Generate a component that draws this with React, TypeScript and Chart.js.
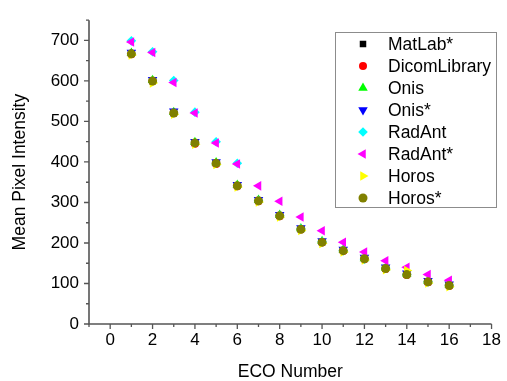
import React, { useEffect, useRef } from 'react';
import { Chart, registerables } from 'chart.js';
import { drawPoint } from 'chart.js/helpers';

Chart.register(...registerables);

// ---- Data ----
const ecoNumbers = [1, 2, 3, 4, 5, 6, 7, 8, 9, 10, 11, 12, 13, 14, 15, 16];
const matlabStar = [667, 600, 521, 447, 397, 341, 304, 267, 234, 202, 181, 161, 137, 122, 104, 95];
const dicomLibrary = [666, 599, 520, 445, 395, 340, 303, 266, 233, 201, 180, 160, 136, 121, 103, 94];
const onis = [669, 602, 523, 449, 399, 343, 306, 269, 236, 204, 183, 162, 139, 124, 106, 97];
const onisStar = [670, 603, 525, 450, 400, 344, 307, 270, 237, 205, 184, 164, 140, 125, 107, 98];
const radAnt = [699, 672, 601, 523, 450, 397, 305, 268, 235, 203, 181, 160, 138, 123, 104, 96];
const radAntStar = [696, 670, 596, 521, 447, 395, 341, 303, 264, 230, 202, 178, 156, 140, 122, 108];
const horos = [664, 595, 518, 444, 394, 338, 301, 264, 231, 199, 178, 158, 134, 132, 101, 92];
const horosStar = [667, 600, 521, 447, 397, 341, 304, 267, 234, 202, 181, 161, 137, 122, 104, 95];

const xMajorTicks = [0, 2, 4, 6, 8, 10, 12, 14, 16, 18];
const xMinorTicks = [-1, 1, 3, 5, 7, 9, 11, 13, 15, 17];
const yMajorTicks = [0, 100, 200, 300, 400, 500, 600, 700];
const yMinorTicks = [50, 150, 250, 350, 450, 550, 650, 750];

const X_MIN = -1;
const X_MAX = 18;
const Y_MIN = 0;
const Y_MAX = 750;

const FONT = "'Liberation Sans', Arial, sans-serif";
const AXIS_COLOR = '#555555';

type SeriesDef = {
  label: string;
  data: number[];
  color: string;
  style: string;
  rotation: number;
  radius: number;
};

const series: SeriesDef[] = [
  { label: 'MatLab*', data: matlabStar, color: '#000000', style: 'rect', rotation: 0, radius: 4.6 },
  { label: 'DicomLibrary', data: dicomLibrary, color: '#ff0000', style: 'circle', rotation: 0, radius: 4 },
  { label: 'Onis', data: onis, color: '#00ff00', style: 'triangle', rotation: 0, radius: 5.5 },
  { label: 'Onis*', data: onisStar, color: '#0000ff', style: 'triangle', rotation: 180, radius: 5.5 },
  { label: 'RadAnt', data: radAnt, color: '#00ffff', style: 'rectRot', rotation: 0, radius: 4.8 },
  { label: 'RadAnt*', data: radAntStar, color: '#ff00ff', style: 'triangle', rotation: 270, radius: 5.5 },
  { label: 'Horos', data: horos, color: '#ffff00', style: 'triangle', rotation: 90, radius: 5.5 },
  { label: 'Horos*', data: horosStar, color: '#808000', style: 'circle', rotation: 0, radius: 4.5 },
];

const axesPlugin = {
  id: 'originAxes',
  afterDatasetsDraw(chart: any) {
    const { ctx } = chart;
    const xs = chart.scales.x;
    const ys = chart.scales.y;
    const x0 = xs.getPixelForValue(X_MIN);
    const x1 = xs.getPixelForValue(X_MAX);
    const y0 = ys.getPixelForValue(Y_MIN);
    const y1 = ys.getPixelForValue(Y_MAX);
    ctx.save();
    ctx.strokeStyle = AXIS_COLOR;
    ctx.lineWidth = 1.6;
    ctx.beginPath();
    ctx.moveTo(x0, y1);
    ctx.lineTo(x0, y0);
    ctx.lineTo(x1, y0);
    ctx.stroke();
    ctx.lineWidth = 1.3;
    ctx.beginPath();
    for (const v of yMajorTicks) {
      const p = ys.getPixelForValue(v);
      ctx.moveTo(x0, p);
      ctx.lineTo(x0 - 5, p);
    }
    for (const v of yMinorTicks) {
      const p = ys.getPixelForValue(v);
      ctx.moveTo(x0, p);
      ctx.lineTo(x0 - 3, p);
    }
    for (const v of xMajorTicks) {
      const p = xs.getPixelForValue(v);
      ctx.moveTo(p, y0);
      ctx.lineTo(p, y0 + 5);
    }
    for (const v of xMinorTicks) {
      const p = xs.getPixelForValue(v);
      ctx.moveTo(p, y0);
      ctx.lineTo(p, y0 + 3);
    }
    ctx.stroke();
    ctx.restore();
  },
};

const legendPlugin = {
  id: 'insideLegend',
  afterDraw(chart: any) {
    const { ctx } = chart;
    const left = 335.5;
    const top = 32.5;
    const width = 161;
    const height = 175;
    ctx.save();
    ctx.fillStyle = '#ffffff';
    ctx.fillRect(left, top, width, height);
    ctx.strokeStyle = '#8c8c8c';
    ctx.lineWidth = 1;
    ctx.strokeRect(left, top, width, height);
    ctx.font = `17.5px ${FONT}`;
    ctx.textBaseline = 'middle';
    ctx.textAlign = 'left';
    series.forEach((s, i) => {
      const cy = 44 + i * 22;
      ctx.fillStyle = s.color;
      ctx.strokeStyle = s.color;
      drawPoint(ctx, { pointStyle: s.style, rotation: s.rotation, radius: s.radius, borderWidth: 0 } as any, 363, cy);
      ctx.fillStyle = '#000000';
      ctx.fillText(s.label, 388, cy + 1);
    });
    ctx.restore();
  },
};

export default function App() {
  const canvasRef = useRef<HTMLCanvasElement | null>(null);

  useEffect(() => {
    const canvas = canvasRef.current;
    if (!canvas) return;
    const n = series.length;
    const chart = new Chart(canvas, {
      type: 'scatter',
      data: {
        datasets: series.map((s, i) => ({
          label: s.label,
          data: ecoNumbers.map((x, j) => ({ x, y: s.data[j] })),
          backgroundColor: s.color,
          borderColor: s.color,
          pointStyle: s.style as any,
          rotation: s.rotation,
          pointRadius: s.radius,
          pointBorderWidth: 0,
          showLine: false,
          order: n - i,
        })),
      },
      options: {
        responsive: false,
        animation: false,
        devicePixelRatio: 1,
        layout: { padding: { top: 12, right: 10, left: 0, bottom: 0 } },
        plugins: {
          legend: { display: false },
          tooltip: { enabled: false },
        },
        scales: {
          x: {
            type: 'linear',
            min: X_MIN,
            max: X_MAX,
            grid: { display: false, drawTicks: false },
            border: { display: false },
            afterBuildTicks: (scale: any) => {
              scale.ticks = xMajorTicks.map((v) => ({ value: v }));
            },
            afterFit: (scale: any) => {
              scale.height = 57;
            },
            ticks: {
              autoSkip: false,
              maxRotation: 0,
              padding: 6,
              color: '#000000',
              font: { family: FONT, size: 17 },
              callback: (v: any) => String(v),
            },
            title: {
              display: true,
              text: 'ECO Number',
              color: '#000000',
              font: { family: FONT, size: 17.5, lineHeight: 1.2 },
              padding: { top: 0, bottom: -2 },
            },
          },
          y: {
            type: 'linear',
            min: Y_MIN,
            max: Y_MAX,
            grid: { display: false, drawTicks: false },
            border: { display: false },
            afterBuildTicks: (scale: any) => {
              scale.ticks = yMajorTicks.map((v) => ({ value: v }));
            },
            afterFit: (scale: any) => {
              scale.width = 89;
            },
            ticks: {
              autoSkip: false,
              padding: 10,
              color: '#000000',
              font: { family: FONT, size: 17 },
              callback: (v: any) => String(v),
            },
            title: {
              display: true,
              text: 'Mean Pixel Intensity',
              color: '#000000',
              font: { family: FONT, size: 17.5, lineHeight: 1.2 },
              padding: { top: 9.5, bottom: 0 },
            },
          },
        },
      },
      plugins: [axesPlugin, legendPlugin],
    });
    return () => chart.destroy();
  }, []);

  return (
    <div style={{ position: 'absolute', left: 0, top: 0, width: 507, height: 381, background: '#ffffff' }}>
      <canvas ref={canvasRef} width={507} height={381} />
    </div>
  );
}
